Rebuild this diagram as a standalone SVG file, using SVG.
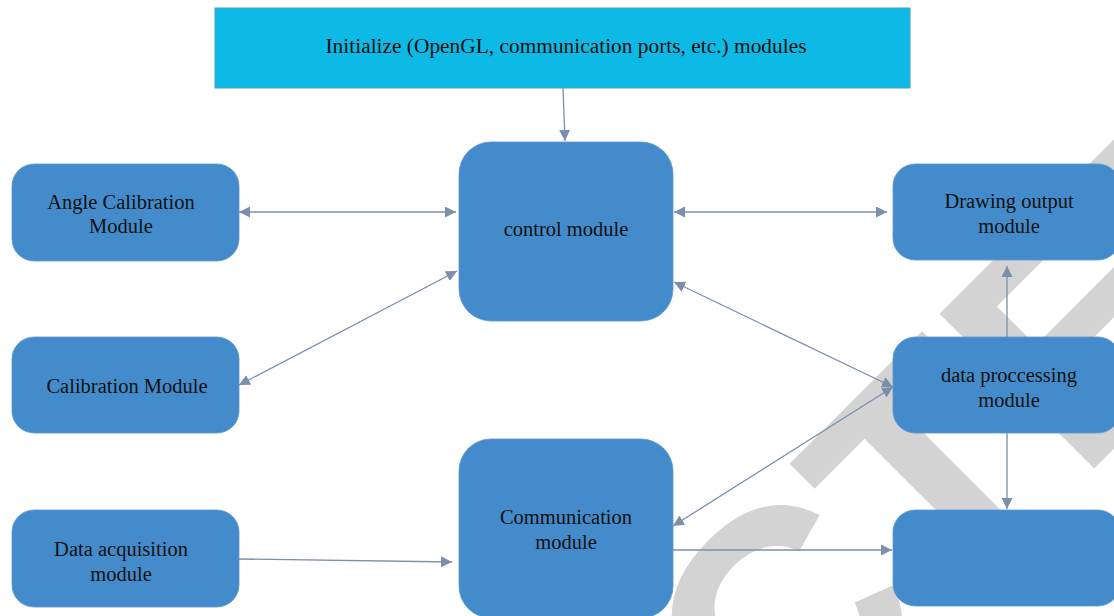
<svg xmlns="http://www.w3.org/2000/svg" width="1114" height="616" viewBox="0 0 1114 616">
  <defs>
    <marker id="arrow" markerUnits="userSpaceOnUse" markerWidth="12" markerHeight="12" refX="11" refY="5.5" orient="auto-start-reverse">
      <path d="M0,0 L11,5.5 L0,11 z" fill="#7b8fab"/>
    </marker>
    <style>
      .init { fill: #0db9e5; stroke: #4d9cc0; stroke-width: 1; }
      .node { fill: #448bcb; stroke: #5a98d0; stroke-width: 0.8; }
      .label { font-family: "Liberation Serif", "Times New Roman", serif; font-size: 20.5px; fill: #111111; text-anchor: middle; }
      .link { fill: none; stroke: #7b8fab; stroke-width: 1.3; }
      .stamp { font-family: "Liberation Sans", Arial, sans-serif; font-weight: bold; font-size: 318px; fill: #d3d3d3; font-kerning: none; }
    </style>
  </defs>

  <rect width="1114" height="616" fill="#ffffff"/>

  <!-- background stamp -->
  <g id="stamp">
    <text class="stamp" x="-1098" y="1105" transform="rotate(-45)">RETRACTED</text>
  </g>

  <g id="init">
    <rect class="init" x="215" y="8" width="695" height="80"/>
    <text class="label" x="566" y="53" textLength="481" lengthAdjust="spacingAndGlyphs">Initialize (OpenGL, communication ports, etc.) modules</text>
  </g>

  <g id="angle-calibration">
    <rect class="node" x="12" y="164" width="227" height="97" rx="22"/>
    <text class="label" x="121" y="209">Angle Calibration</text>
    <text class="label" x="121" y="233">Module</text>
  </g>

  <g id="calibration">
    <rect class="node" x="12" y="337" width="227" height="96" rx="22"/>
    <text class="label" x="127" y="393">Calibration Module</text>
  </g>

  <g id="data-acquisition">
    <rect class="node" x="12" y="510" width="227" height="97" rx="22"/>
    <text class="label" x="121" y="556">Data acquisition</text>
    <text class="label" x="121" y="581">module</text>
  </g>

  <g id="control">
    <rect class="node" x="459" y="142" width="214" height="179" rx="32"/>
    <text class="label" x="566" y="236">control module</text>
  </g>

  <g id="communication">
    <rect class="node" x="459" y="439" width="214" height="179" rx="32"/>
    <text class="label" x="566" y="524">Communication</text>
    <text class="label" x="566" y="549">module</text>
  </g>

  <g id="drawing-output">
    <rect class="node" x="893" y="164" width="227" height="96" rx="22"/>
    <text class="label" x="1009" y="208">Drawing output</text>
    <text class="label" x="1009" y="233">module</text>
  </g>

  <g id="data-processing">
    <rect class="node" x="893" y="337" width="227" height="96" rx="22"/>
    <text class="label" x="1009" y="382">data proccessing</text>
    <text class="label" x="1009" y="407">module</text>
  </g>

  <g id="output-device">
    <rect class="node" x="893" y="510" width="227" height="96" rx="22"/>
  </g>

  <g id="connectors">
    <path class="link" d="M563,88 L565,141" marker-end="url(#arrow)"/>
    <path class="link" d="M239,212 L456,212" marker-start="url(#arrow)" marker-end="url(#arrow)"/>
    <path class="link" d="M239,385 L457,271" marker-start="url(#arrow)" marker-end="url(#arrow)"/>
    <path class="link" d="M674,212 L887,212" marker-start="url(#arrow)" marker-end="url(#arrow)"/>
    <path class="link" d="M674,282 L893,387" marker-start="url(#arrow)" marker-end="url(#arrow)"/>
    <path class="link" d="M673,526 L893,387" marker-start="url(#arrow)" marker-end="url(#arrow)"/>
    <path class="link" d="M1007,337 L1007,266" marker-end="url(#arrow)"/>
    <path class="link" d="M1007,433 L1007,509" marker-end="url(#arrow)"/>
    <path class="link" d="M239,559 L452,562" marker-end="url(#arrow)"/>
    <path class="link" d="M673,550 L892,550" marker-end="url(#arrow)"/>
  </g>
</svg>
